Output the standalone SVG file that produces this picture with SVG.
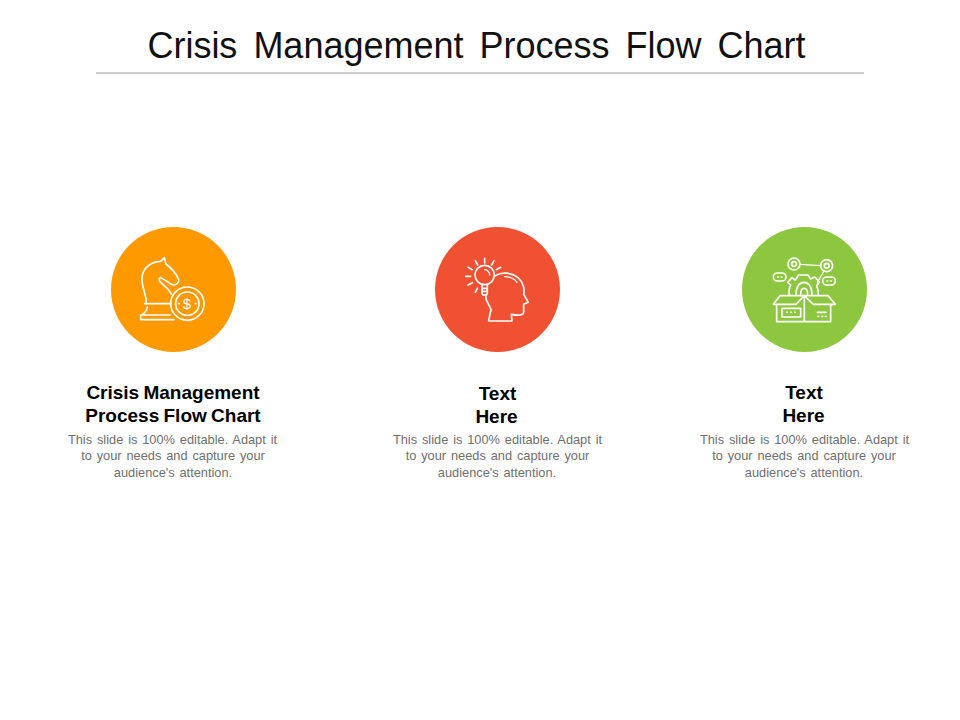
<svg xmlns="http://www.w3.org/2000/svg" width="960" height="720" viewBox="0 0 960 720">
<style>
text{font-family:"Liberation Sans",Arial,sans-serif;text-anchor:middle}
.title{font-size:36px;fill:#111;word-spacing:6px}
.head{font-size:19px;font-weight:bold;fill:#000;word-spacing:-1px}
.body{font-size:12.800px;fill:#6f6f6f;word-spacing:1.300px}
.ic{fill:none;stroke:#fff;stroke-width:5;stroke-linecap:round;stroke-linejoin:round}
.ict{fill:#fff;stroke:none}
</style>
<rect width="960" height="720" fill="#fff"/>
<g id="title"><text class="title" x="476.500" y="58">Crisis Management Process Flow Chart</text>
<line x1="96" y1="73" x2="864" y2="73" stroke="#bdbdbd" stroke-width="1.500"/></g>
<g id="connectors"/>
<g id="node-1">
<circle cx="173.500" cy="289.500" r="62.500" fill="#ff9900"/>
<g transform="translate(110 225) scale(.3333)" class="ic">
<path d="M108 235C112 215 95 190 96 160C97 128 125 110 152 109L163 98L168 117C182 128 198 145 206 163C208 172 200 180 190 180C178 178 170 165 152 158C146 160 146 166 152 172C165 185 178 192 184 207"/>
<path d="M104 236H182M112 246C112 255 106 262 96 270H180M92 270V284H192"/>
<circle cx="232" cy="236" r="50"/><circle cx="232" cy="236" r="35"/>
<path d="M206 236h2M256 236h2" />
</g>
<text x="187" y="309" font-size="15" class="ict">$</text>
<text class="head" x="173" y="399">Crisis Management</text>
<text class="head" x="173" y="422">Process Flow Chart</text>
<text class="body" x="172.500" y="444">This slide is 100% editable. Adapt it</text>
<text class="body" x="173" y="460">to your needs and capture your</text>
<text class="body" x="173" y="477">audience's attention.</text>
</g>
<g id="node-2">
<circle cx="497.500" cy="289.500" r="62.500" fill="#f15133"/>
<g transform="translate(433 225) scale(.3333)" class="ic">
<circle cx="155" cy="150" r="29"/>
<path d="M147 178V205C147 212 163 212 163 205V178M147 190H163M147 199H163"/>
<path d="M155 134C163 134 170 141 170 150" stroke-width="4"/>
<path d="M155 100V114M127 107L134 120M183 107L176 120M105 127L118 134M203 127L190 134M98 154H113M105 180L118 173M127 202L133 190"/>
<path d="M188 152C205 140 235 142 255 158C272 172 275 195 272 208L286 232L272 238L272 262C270 272 255 272 235 268L237 288H167L172 262C178 255 170 245 160 225L158 212"/>
<path d="M215 155C230 155 245 162 252 172" stroke-width="4"/>
</g>
<text class="head" x="497.500" y="400">Text</text>
<text class="head" x="496.500" y="423">Here</text>
<text class="body" x="497.500" y="444">This slide is 100% editable. Adapt it</text>
<text class="body" x="497.500" y="460">to your needs and capture your</text>
<text class="body" x="497" y="477">audience's attention.</text>
</g>
<g id="node-3">
<circle cx="804.500" cy="289.500" r="62.500" fill="#8dc63f"/>
<g transform="translate(740 225) scale(.3333)" class="ic">
<circle cx="162" cy="117" r="18"/><circle cx="162" cy="117" r="7"/>
<circle cx="260" cy="122" r="18"/><circle cx="260" cy="122" r="7"/>
<path d="M180 118L242 122M252 138L232 172" stroke-width="4"/>
<rect x="100" y="144" width="38" height="24" rx="12"/>
<path d="M113 156h2M124 156h2"/>
<rect x="248" y="156" width="38" height="24" rx="12"/>
<path d="M261 168h2M272 168h2"/>
<path d="M148 210C146 200 148 188 152 180L143 172L156 158L166 165L176 150H204L212 162L225 156L238 172L230 182C234 192 236 200 235 210"/>
<path d="M168 208C168 160 216 160 216 208M182 208C182 184 203 184 203 208"/>
<path d="M100 238L120 212H172L193 212L168 238ZM193 212L220 238H286L264 212H193Z"/>
<path d="M110 240V290H272V240M193 215V290"/>
<rect x="126" y="250" width="56" height="26"/>
<path d="M140 262h2M152 262h2M164 262h2M232 262H258M234 274h2M246 274h2M256 274h2" />
</g>
<text class="head" x="804" y="399">Text</text>
<text class="head" x="803.500" y="422">Here</text>
<text class="body" x="804.500" y="444">This slide is 100% editable. Adapt it</text>
<text class="body" x="804" y="460">to your needs and capture your</text>
<text class="body" x="804" y="477">audience's attention.</text>
</g>
</svg>
